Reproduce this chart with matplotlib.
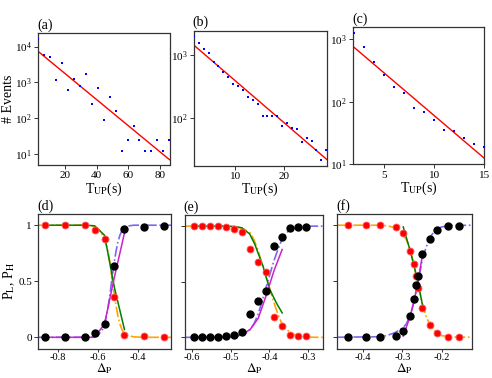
#!/usr/bin/env python3
"""
Waiting-time histograms (a-c) and switching probabilities (d-f)
Saves out.png (492x378 px)
"""
import matplotlib
matplotlib.use('Agg')
import matplotlib.pyplot as plt
from matplotlib.ticker import NullLocator

plt.rcParams['font.family'] = ['Liberation Serif', 'DejaVu Serif']
plt.rcParams['mathtext.fontset'] = 'stix'
plt.rcParams['axes.unicode_minus'] = False

# ---------------- top row: # events vs T_UP ----------------
a_t = [3.1, 6.9, 10.6, 14.4, 18.1, 21.9, 25.7, 29.4, 33.2, 36.9, 40.7, 44.5,
       48.2, 52.0, 55.7, 59.5, 63.3, 67.0, 70.8, 74.5, 78.3, 82.1, 85.8]
a_n = [16000, 5700, 5100, 1170, 3560, 610, 1260, 810, 1740, 255, 700, 91,
       380, 162, 12.4, 24.2, 62, 24.2, 12.4, 12.4, 24.2, 12.4, 24.2]
a_fit_t = [3.1, 86.0]
a_fit_n = [7240, 6.9]

b_t = [1.6, 2.6, 3.6, 4.6, 5.6, 6.6, 7.6, 8.6, 9.6, 10.6, 11.6, 12.6, 13.6, 14.6,
       15.6, 16.6, 17.6, 18.6, 19.6, 20.6, 21.6, 22.6, 23.6, 24.6, 25.6, 26.6, 27.6, 28.6]
b_n = [1950, 1510, 1230, 1050, 776, 676, 537, 447, 347, 324, 282, 219, 191, 170,
       110, 110, 107, 110, 74, 83, 71, 68, 42, 48, 44, 32, 22, 32]
b_fit_t = [1.6, 28.7]
b_fit_n = [1413, 22.4]

c_t = [2, 3, 4, 5, 6, 7, 8, 9, 10, 11, 12, 13, 14, 15]
c_n = [1250, 740, 437, 263, 170, 138, 79, 68, 51, 35, 34, 26.5, 20.8, 19]
c_fit_t = [1.9, 15.0]
c_fit_n = [759, 12.5]

# ---------------- bottom row: P_L (red), P_H (black) vs Delta_p ----------------
d_x = [-0.867, -0.767, -0.667, -0.617, -0.567, -0.517, -0.467, -0.367, -0.267]
d_low = [1.0, 1.0, 1.0, 0.955, 0.875, 0.356, 0.02, 0.01, 0.006]
d_high = [0.0, 0.0, 0.003, 0.04, 0.12, 0.64, 0.97, 0.985, 0.994]
d_green_x = [-0.867, -0.767, -0.667, -0.617, -0.567, -0.517, -0.467]
d_green_y = [1.0, 1.0, 1.0, 0.995, 0.91, 0.44, 0.07]
d_mag_x = [-0.867, -0.767, -0.667, -0.617, -0.567, -0.517, -0.467]
d_mag_y = [0.0, 0.0, 0.0, 0.0, 0.12, 0.54, 0.93]
d_orange_x = [-0.90, -0.66, -0.63, -0.61, -0.59, -0.57, -0.55, -0.54, -0.53, -0.52,
              -0.51, -0.50, -0.49, -0.48, -0.47, -0.45, -0.42, -0.38, -0.233]
d_orange_y = [1.0, 1.0, 0.995, 0.98, 0.95, 0.89, 0.77, 0.67, 0.53, 0.41,
              0.29, 0.19, 0.12, 0.07, 0.04, 0.015, 0.004, 0.0, 0.0]
d_purple_x = [-0.90, -0.64, -0.62, -0.60, -0.58, -0.57, -0.56, -0.55, -0.54, -0.53,
              -0.52, -0.51, -0.50, -0.49, -0.48, -0.47, -0.45, -0.42, -0.233]
d_purple_y = [0.0, 0.0, 0.005, 0.02, 0.06, 0.10, 0.17, 0.26, 0.38, 0.52,
              0.65, 0.76, 0.85, 0.91, 0.95, 0.975, 0.993, 1.0, 1.0]

e_x = [-0.595, -0.574, -0.553, -0.533, -0.512, -0.491, -0.471, -0.450,
       -0.429, -0.409, -0.388, -0.367, -0.347, -0.326, -0.305]
e_low = [1.0, 1.0, 1.0, 1.0, 0.991, 0.976, 0.947, 0.793,
         0.68, 0.59, 0.183, 0.104, 0.024, 0.015, 0.015]
e_high = [0.0, 0.0, 0.0, 0.006, 0.015, 0.02, 0.05, 0.207,
          0.325, 0.414, 0.82, 0.90, 0.98, 0.99, 0.99]
e_green_x = [-0.595, -0.512, -0.491, -0.471, -0.451, -0.438, -0.4165, -0.399, -0.382, -0.367]
e_green_y = [1.0, 1.0, 0.997, 0.985, 0.93, 0.84, 0.64, 0.43, 0.31, 0.22]
e_mag_x = [-0.595, -0.512, -0.491, -0.471, -0.450, -0.429, -0.409, -0.388, -0.367]
e_mag_y = [0.0, 0.003, 0.008, 0.025, 0.07, 0.17, 0.37, 0.60, 0.79]
e_orange_x = [-0.62, -0.52, -0.49, -0.47, -0.45, -0.44, -0.43, -0.42, -0.41, -0.40,
              -0.39, -0.38, -0.37, -0.36, -0.35, -0.34, -0.32, -0.30, -0.26]
e_orange_y = [1.0, 1.0, 0.995, 0.98, 0.94, 0.88, 0.79, 0.67, 0.56, 0.45,
              0.33, 0.23, 0.14, 0.09, 0.055, 0.03, 0.01, 0.002, 0.0]
e_purple_x = [-0.62, -0.50, -0.48, -0.46, -0.45, -0.44, -0.43, -0.42, -0.41, -0.40,
              -0.39, -0.38, -0.37, -0.36, -0.35, -0.34, -0.32, -0.30, -0.26]
e_purple_y = [0.0, 0.003, 0.015, 0.04, 0.07, 0.12, 0.20, 0.31, 0.43, 0.55,
              0.67, 0.77, 0.86, 0.92, 0.96, 0.98, 0.995, 1.0, 1.0]

f_x = [-0.440, -0.394, -0.356, -0.317, -0.298, -0.280, -0.270,
       -0.266, -0.261, -0.249, -0.231, -0.213, -0.185, -0.156]
f_low = [1.0, 1.0, 1.0, 0.982, 0.932, 0.77, 0.656,
         0.55, 0.44, 0.26, 0.11, 0.036, 0.006, 0.006]
f_high = [0.0, 0.0, 0.0, 0.012, 0.056, 0.19, 0.344,
          0.463, 0.546, 0.745, 0.881, 0.955, 0.991, 0.997]
f_green_x = [-0.298, -0.280, -0.270, -0.266, -0.261, -0.249]
f_green_y = [0.985, 0.77, 0.63, 0.57, 0.50, 0.29]
f_mag_x = [-0.298, -0.280, -0.270, -0.266, -0.261, -0.249]
f_mag_y = [0.01, 0.19, 0.33, 0.40, 0.49, 0.73]
f_orange_x = [-0.47, -0.36, -0.34, -0.32, -0.30, -0.29, -0.28, -0.27, -0.26, -0.25,
              -0.24, -0.23, -0.22, -0.21, -0.20, -0.18, -0.12]
f_orange_y = [1.0, 1.0, 0.995, 0.98, 0.93, 0.87, 0.78, 0.64, 0.47, 0.31,
              0.19, 0.11, 0.06, 0.03, 0.015, 0.004, 0.0]
f_purple_x = [-0.47, -0.36, -0.34, -0.32, -0.30, -0.29, -0.28, -0.27, -0.26, -0.25,
              -0.24, -0.23, -0.22, -0.21, -0.20, -0.18, -0.12]
f_purple_y = [0.0, 0.005, 0.015, 0.04, 0.08, 0.12, 0.20, 0.32, 0.50, 0.68,
              0.80, 0.89, 0.94, 0.97, 0.985, 0.997, 1.0]

W, H = 492, 378
TICK_FS = 8
LABEL_FS = 10
SPINE = '#333333'


def px_axes(fig, left, top, right, bottom):
    """Axes placed by pixel box (from top-left corner)"""
    return fig.add_axes([left / W, 1 - bottom / H, (right - left) / W, (bottom - top) / H])


def style(ax, tag):
    for s in ax.spines.values():
        s.set_color(SPINE)
        s.set_linewidth(0.9)
    ax.tick_params(direction='out', length=3, width=0.7, labelsize=TICK_FS,
                   pad=1.5, colors=SPINE, labelcolor='black')
    ax.text(-0.01, 1.01, tag, transform=ax.transAxes, ha='left', va='bottom',
            fontsize=LABEL_FS)


def top_panel(ax, t, n, fit_t, fit_n, xlim, ylim, xticks, yticks, tag):
    ax.plot(t, n, 's', color='blue', ms=1.8, mew=0, zorder=3)
    ax.plot(fit_t, fit_n, '-', color='red', lw=1.0, zorder=2)
    ax.set_yscale('log')
    ax.set_xlim(*xlim)
    ax.set_ylim(*ylim)
    ax.set_xticks(xticks)
    ax.set_yticks(yticks)
    ax.yaxis.set_minor_locator(NullLocator())
    ax.set_xlabel(r'T$_{\mathrm{UP}}$(s)', fontsize=LABEL_FS, labelpad=0)
    style(ax, tag)


def bottom_panel(ax, x, low, high, green, mag, orange, purple, xlim, xticks, tag):
    ax.plot(orange[0], orange[1], '-.', color='orange', lw=1.2, zorder=2)
    ax.plot(purple[0], purple[1], '-.', color='mediumslateblue', lw=1.2, zorder=2)
    ax.plot(green[0], green[1], '-', color='green', lw=1.1, zorder=2)
    ax.plot(mag[0], mag[1], '-', color='#cc22cc', lw=1.1, zorder=2)
    ax.plot(x, low, 'o', color='red', mec='#ff6060', mew=0.6, ms=5, zorder=3)
    ax.plot(x, high, 'o', color='black', ms=5, zorder=3)
    ax.set_xlim(*xlim)
    ax.set_ylim(-0.1, 1.1)
    ax.set_xticks(xticks)
    ax.set_xticklabels([f'{v:.1f}' for v in xticks])
    ax.set_yticks([0, 0.5, 1])
    ax.set_yticklabels([])
    ax.set_xlabel(r'$\Delta_{\mathrm{P}}$', fontsize=9.5, labelpad=0)
    style(ax, tag)
    ax.tick_params(axis='x', length=2.5, pad=0.5, labelsize=7.5)


fig = plt.figure(figsize=(W / 100, H / 100), dpi=100)

ax_a = px_axes(fig, 38.3, 33.3, 169.5, 165)
ax_b = px_axes(fig, 194, 30.7, 326.7, 165.7)
ax_c = px_axes(fig, 353.3, 27.3, 484.3, 164.3)
ax_d = px_axes(fig, 38.3, 214, 171, 348.5)
ax_e = px_axes(fig, 185, 215, 323, 348.5)
ax_f = px_axes(fig, 337.3, 214, 471.7, 348.5)

top_panel(ax_a, a_t, a_n, a_fit_t, a_fit_n, (3.1, 86.0), (4.9, 23400),
          [20, 40, 60, 80], [10, 100, 1000, 10000], '(a)')
ax_a.set_ylabel('# Events', fontsize=LABEL_FS, labelpad=0)
top_panel(ax_b, b_t, b_n, b_fit_t, b_fit_n, (1.6, 28.7), (17.8, 2400),
          [10, 20], [100, 1000], '(b)')
top_panel(ax_c, c_t, c_n, c_fit_t, c_fit_n, (1.9, 15.0), (10, 1550),
          [5, 10, 15], [10, 100, 1000], '(c)')

bottom_panel(ax_d, d_x, d_low, d_high, (d_green_x, d_green_y), (d_mag_x, d_mag_y),
             (d_orange_x, d_orange_y), (d_purple_x, d_purple_y),
             (-0.90, -0.233), [-0.8, -0.6, -0.4], '(d)')
ax_d.set_yticklabels(['0', '0.5', '1'])
ax_d.set_ylabel(r'P$_{\mathrm{L}}$, P$_{\mathrm{H}}$', fontsize=LABEL_FS, labelpad=1)
bottom_panel(ax_e, e_x, e_low, e_high, (e_green_x, e_green_y), (e_mag_x, e_mag_y),
             (e_orange_x, e_orange_y), (e_purple_x, e_purple_y),
             (-0.618, -0.2615), [-0.6, -0.5, -0.4, -0.3], '(e)')
bottom_panel(ax_f, f_x, f_low, f_high, (f_green_x, f_green_y), (f_mag_x, f_mag_y),
             (f_orange_x, f_orange_y), (f_purple_x, f_purple_y),
             (-0.466, -0.1235), [-0.4, -0.3, -0.2], '(f)')

plt.savefig('out.png', dpi=100)
